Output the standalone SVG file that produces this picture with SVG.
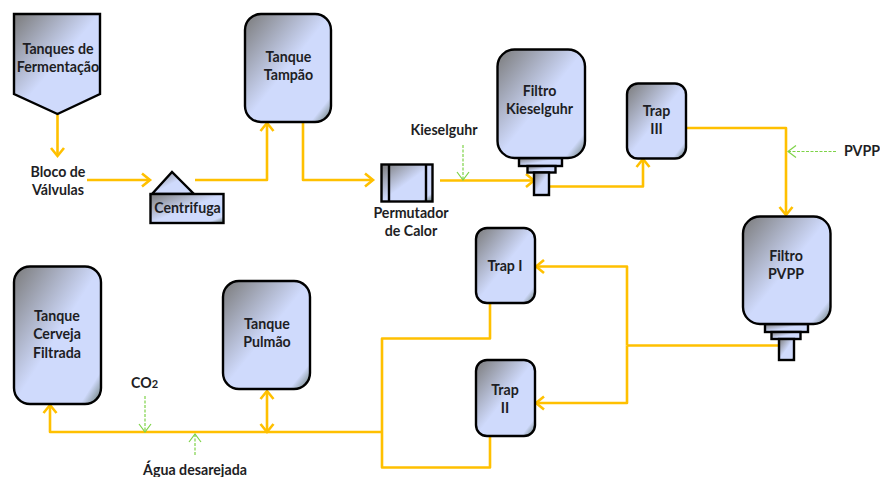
<svg xmlns="http://www.w3.org/2000/svg" width="880" height="477" viewBox="0 0 880 477">
<style>
.n{fill:url(#g);stroke:#000;stroke-width:2.4}
.t{font-family:"Lato","Liberation Sans",sans-serif;font-size:14.2px;font-weight:700;fill:#1e1e24;text-anchor:middle}
.c{fill:none;stroke:#ffc000;stroke-width:2.6;stroke-linejoin:round}
.a{marker-end:url(#ao)}
.d{fill:none;stroke:#7ed348;stroke-width:1.2;stroke-dasharray:3 1.500;marker-end:url(#ag)}
</style>
<defs>
<linearGradient id="g" x1="0" y1="0" x2="1" y2="1">
<stop offset="0" stop-color="#7a7a7a"/><stop offset="0.5" stop-color="#cfdafc"/><stop offset="0.88" stop-color="#cfdafc"/><stop offset="1" stop-color="#5f7268"/>
</linearGradient>
<marker id="ao" markerUnits="userSpaceOnUse" markerWidth="16" markerHeight="16" refX="11" refY="8" orient="auto-start-reverse"><path d="M3 1.500L11 8L3 14.500" fill="none" stroke="#ffc000" stroke-width="2.6"/></marker>
<marker id="ag" markerUnits="userSpaceOnUse" markerWidth="14" markerHeight="14" refX="10" refY="7" orient="auto"><path d="M2 1L10 7L2 13" fill="none" stroke="#7ed348" stroke-width="1.2"/></marker>
</defs>
<g id="connectors">
<path class="c a" d="M57.500 114V156"/>
<path class="c a" d="M87 180H150"/>
<path class="c a" d="M195 180H267V123"/>
<path class="c a" d="M303 122V180H373"/>
<path class="c a" d="M440 180.500H534"/>
<path class="c a" d="M549 186.500H643V159"/>
<path class="c a" d="M686 128H786V215"/>
<path class="c" d="M779 345.500H627"/>
<path class="c a" d="M627 345.500V266.500H536"/>
<path class="c a" d="M627 345.500V403H536"/>
<path class="c" d="M490 303V338.500H382V467.500H490V432"/>
<path class="c a" d="M382 432H50V405"/>
<path class="c a" d="M267 432V391" marker-start="url(#ao)"/>
<path class="d" d="M836 151.500H788"/>
<path class="d" d="M463 145V180"/>
<path class="d" d="M145 396V432"/>
<path class="d" d="M195 455V434"/>
</g>
<g id="tanques-fermentacao"><path class="n" d="M14 14H100V94L57.500 114L14 94Z"/><text class="t"><tspan x="58" y="54">Tanques de</tspan><tspan x="58" y="72">Fermentação</tspan></text></g>
<g id="tanque-tampao"><rect class="n" x="245" y="14" width="86" height="108" rx="16"/><text class="t"><tspan x="288.500" y="62">Tanque</tspan><tspan x="288.500" y="80">Tampão</tspan></text></g>
<g id="centrifuga"><path class="n" d="M152 194L172 172L194 194Z"/><rect class="n" x="150.500" y="194" width="73" height="29"/><text class="t" x="187.500" y="213">Centrifuga</text></g>
<g id="permutador"><rect class="n" x="381.500" y="164.500" width="51" height="37"/><path d="M389 164.500V201.500M426 164.500V201.500" fill="none" stroke="#000" stroke-width="2.400"/></g>
<g id="filtro-kieselguhr"><rect class="n" x="519" y="158" width="43" height="8"/><rect class="n" x="527.500" y="166" width="28" height="6.500"/><rect class="n" x="534" y="172.500" width="15" height="22.500"/><rect class="n" x="497.500" y="49.500" width="87.500" height="108.500" rx="17"/><text class="t"><tspan x="539.500" y="96">Filtro</tspan><tspan x="539.500" y="114">Kieselguhr</tspan></text></g>
<g id="trap-3"><rect class="n" x="627" y="83.500" width="59" height="75" rx="11"/><text class="t"><tspan x="656.500" y="116">Trap</tspan><tspan x="656.500" y="134">III</tspan></text></g>
<g id="filtro-pvpp"><rect class="n" x="765" y="324" width="43" height="8"/><rect class="n" x="771.500" y="332" width="29" height="7"/><rect class="n" x="779" y="339" width="15" height="21"/><rect class="n" x="743" y="216.500" width="87.500" height="107.500" rx="17"/><text class="t"><tspan x="786" y="261">Filtro</tspan><tspan x="786" y="279">PVPP</tspan></text></g>
<g id="trap-1"><rect class="n" x="476" y="228" width="59" height="75" rx="11"/><text class="t" x="505" y="271">Trap I</text></g>
<g id="trap-2"><rect class="n" x="476" y="360" width="59" height="76" rx="11"/><text class="t"><tspan x="505" y="395">Trap</tspan><tspan x="505" y="413">II</tspan></text></g>
<g id="tanque-cerveja"><rect class="n" x="14" y="266.500" width="87" height="137.500" rx="16"/><text class="t"><tspan x="57" y="321">Tanque</tspan><tspan x="57" y="339">Cerveja</tspan><tspan x="57" y="358">Filtrada</tspan></text></g>
<g id="tanque-pulmao"><rect class="n" x="223" y="281" width="87" height="108" rx="16"/><text class="t"><tspan x="267" y="329">Tanque</tspan><tspan x="267" y="347">Pulmão</tspan></text></g>
<g id="labels"><text class="t"><tspan x="58" y="177">Bloco de</tspan><tspan x="58" y="195">Válvulas</tspan></text>
<text class="t"><tspan x="411" y="218">Permutador</tspan><tspan x="411" y="236">de Calor</tspan></text>
<text class="t" x="444" y="135">Kieselguhr</text>
<text class="t" x="862" y="156">PVPP</text>
<text class="t" x="144.500" y="388">CO<tspan font-size="11">2</tspan></text>
<text class="t" x="195" y="475">Água desarejada</text></g>
</svg>
